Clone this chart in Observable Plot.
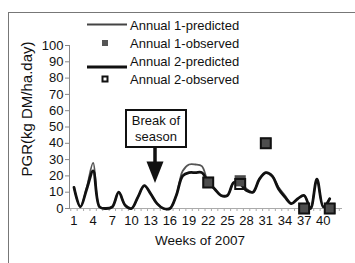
<!DOCTYPE html>
<html><head><meta charset="utf-8">
<script src="https://cdn.jsdelivr.net/npm/d3@7"></script>
<script src="https://cdn.jsdelivr.net/npm/@observablehq/plot@0.6"></script>
<style>
body{margin:0;background:#fff;}
#wrap{position:relative;width:355px;height:263px;overflow:hidden;background:#fff;font-family:"Liberation Sans",Arial,sans-serif;}
#wrap svg{position:absolute;left:0;top:0;}
</style></head>
<body><div id="wrap"></div>
<script>
const weeks = [1,2,3,4,5,6,7,8,9,10,11,12,13,14,15,16,17,18,19,20,21,22,23,24,25,26,27,28,29,30,31,32,33,34,35,36,37,38,39,40,41];
const annual1Predicted = [13,1,13,28,1,0,1,10,2,0,7,14,9,3,0,0,8,23,27,27,26,16,12,8,8,16,16,12,10,18,22,20,13,8,3,6,8,0,18,1,6];
const annual2Predicted = [13,1,12,23,1,0,1,10,2,0,7,14,9,3,0,0,8,20,22,22,22,16,12,8,8,16,15,11,10,18,22,20,12,7,3,6,8,0,18,1,6];
const obsWeeks = [22,27,31,37,41];
const annual1Observed = [16,17,40,0,0];
const annual2Observed = [16,15,40,0,0];
const yTicks = [0,10,20,30,40,50,60,70,80,90,100];
const xTickLabels = [1,4,7,10,13,16,19,22,25,28,31,34,37,40];
const seriesNames = ["Annual 1-predicted","Annual 1-observed","Annual 2-predicted","Annual 2-observed"];

const line1 = weeks.map((w,i)=>({week:w, v:annual1Predicted[i]}));
const line2 = weeks.map((w,i)=>({week:w, v:annual2Predicted[i]}));
const obs1 = obsWeeks.map((w,i)=>({week:w, v:annual1Observed[i]}));
const obs2 = obsWeeks.map((w,i)=>({week:w, v:annual2Observed[i]}));
const boundaries = d3.range(0,43).map(d=>d+0.5);

const font = '"Liberation Sans",Arial,sans-serif';
const chart = Plot.plot({
  width:355, height:263,
  marginLeft:69, marginRight:13, marginTop:45, marginBottom:55,
  style:{fontFamily:font, fontSize:"13px", color:"#111", background:"transparent"},
  x:{domain:[0.3,43]},
  y:{domain:[0,100]},
  marks:[
    Plot.axisX({ticks:boundaries, tickSize:3, tickFormat:()=>"", stroke:"#aaa", label:null}),
    Plot.axisX({ticks:xTickLabels, tickSize:0, tickPadding:7, fontSize:13, label:null, fill:"#111"}),
    Plot.axisY({ticks:yTicks, tickSize:4, tickPadding:2, fontSize:13, label:null, stroke:"#888", fill:"#111"}),
    Plot.ruleY([0], {stroke:"#aaa", strokeWidth:1.2}),
    Plot.frame({anchor:"left", stroke:"#888"}),
    Plot.line(line1, {x:"week", y:"v", curve:"catmull-rom", stroke:"#555", strokeWidth:1.8}),
    Plot.line(line2, {x:"week", y:"v", curve:"catmull-rom", stroke:"#111", strokeWidth:2.8}),
    Plot.dot(obs1, {x:"week", y:"v", symbol:"square", r:6.3, fill:"#4d4d4d", stroke:"none"}),
    Plot.dot(obs2, {x:"week", y:"v", symbol:"square", r:5.6, fill:"none", stroke:"#111", strokeWidth:2}),
    Plot.text(["PGR(kg DM/ha.day)"], {frameAnchor:"left", textAnchor:"middle", rotate:-90, dx:-42, dy:-18, fontSize:15, fill:"#111"}),
    Plot.text(["Weeks of 2007"], {frameAnchor:"bottom", textAnchor:"middle", dx:-6, dy:36, fontSize:13.5, fill:"#111"})
  ]
});
const wrap = document.getElementById("wrap");
wrap.appendChild(chart);

// overlay: frame, legend, annotation
const ov = d3.select(wrap).append("svg").attr("width",355).attr("height",263)
  .style("font-family", font).style("pointer-events","none");
ov.append("line").attr("x1",8).attr("x2",355).attr("y1",12.5).attr("y2",12.5).attr("stroke","#777");
ov.append("line").attr("x1",8.5).attr("x2",8.5).attr("y1",12).attr("y2",263).attr("stroke","#777");

const rowsY = [25,43,61.5,79];
// legend swatches
ov.append("line").attr("x1",87).attr("x2",127).attr("y1",24.5).attr("y2",24.5).attr("stroke","#444").attr("stroke-width",1.8);
ov.append("rect").attr("x",102).attr("y",40).attr("width",6).attr("height",6).attr("fill","#555");
ov.append("line").attr("x1",87).attr("x2",127).attr("y1",67).attr("y2",67).attr("stroke","#111").attr("stroke-width",2.8);
ov.append("rect").attr("x",102.5).attr("y",76.5).attr("width",5).attr("height",5).attr("fill","#fff").attr("stroke","#111").attr("stroke-width",2);
seriesNames.forEach((s,i)=>{
  ov.append("text").attr("x",130).attr("y",rowsY[i]).attr("dy","0.35em").attr("font-size",13).attr("fill","#111").text(s);
});

// annotation box + arrow
ov.append("rect").attr("x",126).attr("y",110).attr("width",60).attr("height",37).attr("fill","#fff").attr("stroke","#111").attr("stroke-width",2);
ov.append("text").attr("x",156).attr("y",120.5).attr("dy","0.35em").attr("text-anchor","middle").attr("font-size",13).attr("fill","#111").text("Break of");
ov.append("text").attr("x",156).attr("y",136.5).attr("dy","0.35em").attr("text-anchor","middle").attr("font-size",13).attr("fill","#111").text("season");
ov.append("line").attr("x1",155).attr("x2",155).attr("y1",148).attr("y2",163).attr("stroke","#111").attr("stroke-width",3.5);
ov.append("path").attr("d","M146.5,161.5 L163.5,161.5 L155,183 Z").attr("fill","#111");
</script></body></html>
